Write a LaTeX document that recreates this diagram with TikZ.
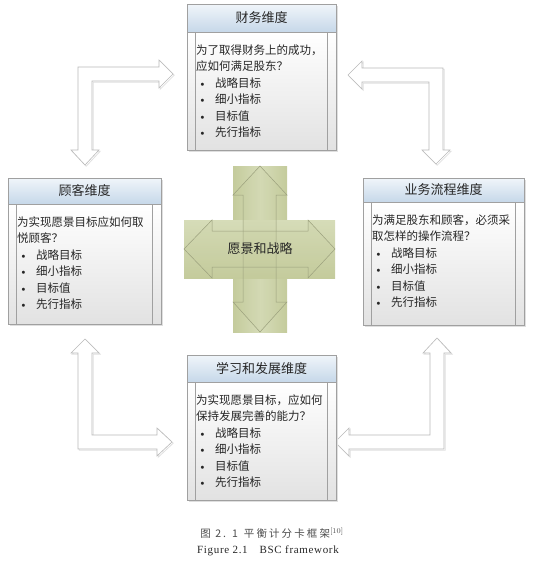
\documentclass[tikz,border=0pt]{standalone}
\usepackage{fontspec}
\usepackage{tikz}
\usepackage{xcolor}

\newfontfamily\cjk{Noto Sans CJK SC}
\newfontfamily\cjkcap[LetterSpace=20]{Noto Sans CJK SC}
\newfontfamily\capfont[LetterSpace=6]{Liberation Serif}

\definecolor{headtop}{RGB}{240,245,250}
\definecolor{headbot}{RGB}{198,216,233}
\definecolor{bodybot}{RGB}{226,226,226}
\definecolor{boxline}{RGB}{160,160,160}
\definecolor{crosslight}{RGB}{214,220,184}
\definecolor{crossdark}{RGB}{196,203,156}
\definecolor{crossline}{RGB}{155,160,125}

\tikzset{
  wdline/.style={draw=boxline, line width=0.6pt},
  wdtitle/.style={font=\cjk\fontsize{13}{15}\selectfont, text=black!85, inner sep=0pt},
  wdbody/.style={font=\cjk\fontsize{11.5}{16.5}\selectfont, text=black!85, align=left, inner sep=0pt, anchor=north west},
  larrow/.style={draw=gray!55, fill=white, line width=0.6pt, line join=miter,
    preaction={draw=gray!25, line width=0.8pt, transform canvas={xshift=1.2pt,yshift=-1.2pt}}},
  crossarrow/.style={draw=crossline, fill=crossdark, fill opacity=0.15, line width=0.5pt},
}

% bullet item
\newcommand{\bul}{\makebox[19pt][l]{\hspace{2pt}\normalfont\textbullet}}

% box: name, x1, y1, x2, y2, header bottom, title, text
\newcommand{\wdbox}[8]{
  \fill[gray!25] (#2+1.5,#3+1.5) rectangle (#4+1.5,#5+1.5);
  \shade[top color=white, bottom color=bodybot] (#2,#6) rectangle (#4,#5);
  \shade[top color=headtop, bottom color=headbot] (#2,#3) rectangle (#4,#6);
  \draw[wdline] (#2+8,#6) -- (#2+8,#5);
  \draw[wdline] (#4-9,#6) -- (#4-9,#5);
  \draw[wdline] (#2,#6) -- (#4,#6);
  \draw[wdline] (#2,#3) rectangle (#4,#5);
  \node[wdtitle] (#1) at ({(#2+#4)/2},{(#3+#6)/2}) {#7};
  \node[wdbody] (#1-text) at (#2+9,#6+12.5) {#8};
}

\begin{document}
\begin{tikzpicture}[x=1pt,y=-1pt]
\useasboundingbox (0,0) rectangle (535,568);

% hollow L arrows
\draw[larrow] (78,67) -- (159,67) -- (159,60) -- (173,74) -- (159,88) -- (159,81)
  -- (92,81) -- (92,150) -- (99,150) -- (85,165) -- (71,150) -- (78,150) -- cycle;
\draw[larrow] (443,68) -- (362,68) -- (362,61) -- (348,75) -- (362,89) -- (362,82)
  -- (429,82) -- (429,150) -- (422,150) -- (436,164) -- (450,150) -- (443,150) -- cycle;
\draw[larrow] (78,449) -- (78,353) -- (71,353) -- (85,339) -- (99,353) -- (92,353)
  -- (92,435) -- (157,435) -- (157,428) -- (172,442) -- (157,456) -- (157,449) -- cycle;
\draw[larrow] (444,449) -- (444,353) -- (451,353) -- (437,338) -- (423,353) -- (430,353)
  -- (430,435) -- (349,435) -- (349,428) -- (335,442) -- (349,456) -- (349,449) -- cycle;

% the four boxes
\wdbox{caiwu}{187}{4}{336}{150}{32}{财务维度}
  {为了取得财务上的成功，\\应如何满足股东？\\\bul 战略目标\\\bul 细小指标\\\bul 目标值\\\bul 先行指标}
\wdbox{kehu}{8}{178}{161}{324}{204}{顾客维度}
  {为实现愿景目标应如何取\\悦顾客？\\\bul 战略目标\\\bul 细小指标\\\bul 目标值\\\bul 先行指标}
\wdbox{liucheng}{363}{178}{524}{325}{202}{业务流程维度}
  {为满足股东和顾客，必须采\\取怎样的操作流程？\\\bul 战略目标\\\bul 细小指标\\\bul 目标值\\\bul 先行指标}
\wdbox{xuexi}{187}{355}{336}{500}{382}{学习和发展维度}
  {为实现愿景目标，应如何\\保持发展完善的能力？\\\bul 战略目标\\\bul 细小指标\\\bul 目标值\\\bul 先行指标}

% centre cross
\shade[left color=crossdark, right color=crossdark, middle color=crosslight] (233,166) rectangle (287,332);
\shade[top color=crosslight, bottom color=crossdark] (184,220) rectangle (335,278);
\draw[crossarrow] (260,166) -- (287,195) -- (276,195) -- (276,302) -- (287,302) -- (260,332)
  -- (233,302) -- (243,302) -- (243,195) -- (233,195) -- cycle;
\draw[crossarrow] (184,249) -- (212,220) -- (212,231) -- (308,231) -- (308,220) -- (335,249)
  -- (308,278) -- (308,267) -- (212,267) -- (212,278) -- cycle;
\node[font=\cjk\fontsize{13}{15}\selectfont, text=black!85] (yuanjing) at (260,249) {愿景和战略};

% caption
\node[font=\cjkcap\fontsize{10.5}{12}\selectfont, text=black!70] (tu) at (272,533)
  {图 2. 1\hspace{6pt}平衡计分卡框架\textsuperscript{\normalfont[10]}};
\node[font=\capfont\fontsize{11}{13}\selectfont, text=black!85] (fig) at (268,551)
  {Figure 2.1\hspace{12pt}BSC framework};
\end{tikzpicture}
\end{document}
